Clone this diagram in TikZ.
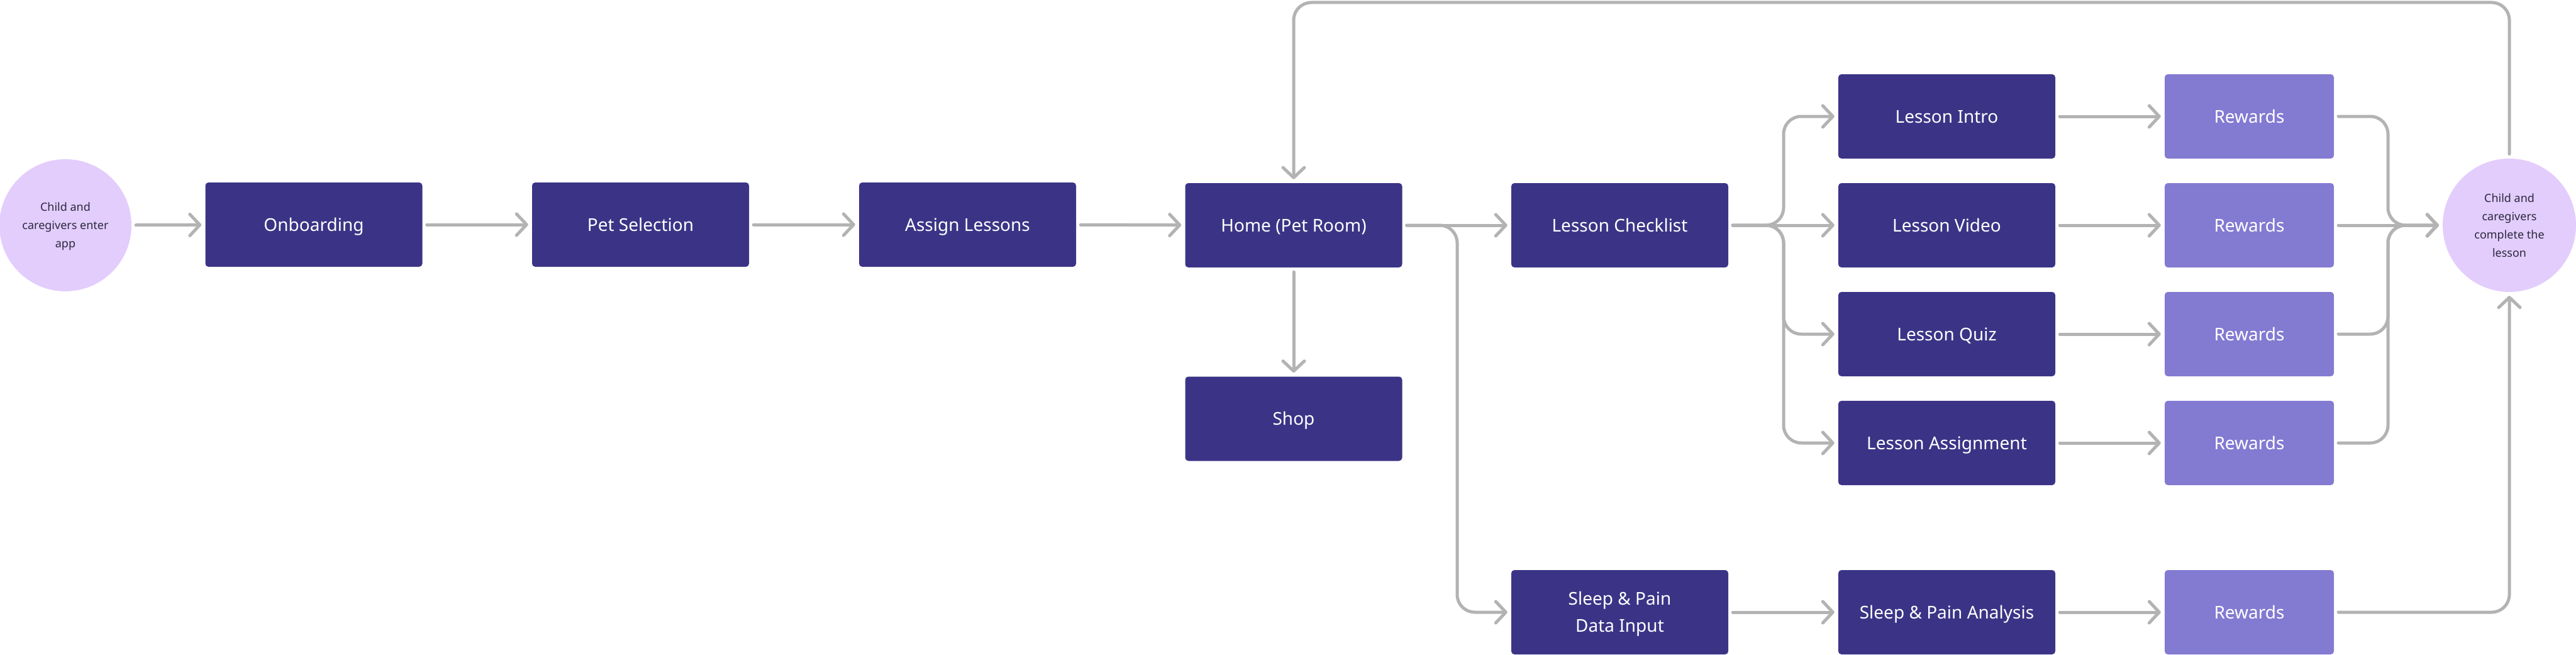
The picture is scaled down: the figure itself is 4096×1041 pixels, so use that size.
\documentclass[tikz,border=0pt]{standalone}
\usepackage{fontspec}
\setmainfont{Noto Sans}
\usetikzlibrary{arrows.meta}
\definecolor{dark}{HTML}{3B3486}
\definecolor{rewc}{HTML}{837AD2}
\definecolor{lav}{HTML}{E3CDFC}
\definecolor{txt}{HTML}{2B2840}
\definecolor{lgray}{HTML}{B3B3B3}
\begin{document}
\begin{tikzpicture}[x=1pt,y=-1pt,
  box/.style={rectangle, rounded corners=5pt, fill=dark, text=white, minimum width=345pt, minimum height=134pt, inner sep=0pt, align=center, font=\fontsize{28}{43}\selectfont, text height=20pt, text depth=0pt},
  rew/.style={box, fill=rewc, minimum width=269pt},
  blob/.style={circle, fill=lav, text=txt, inner sep=0pt, align=center, font=\fontsize{18}{29}\selectfont, text depth=0pt},
  conn/.style={draw=lgray, line width=5pt, rounded corners=28pt, line cap=round, -{Straight Barb[length=16pt,width=34pt,round]}, shorten <=7pt, shorten >=6pt}
]
\useasboundingbox (0,0) rectangle (4096,1041);

\node[blob, minimum size=210pt, text height=71pt] (start) at (104,358) {Child and\\caregivers enter\\app};
\node[box] (onb) at (499,357) {Onboarding};
\node[box] (pet) at (1018.5,357) {Pet Selection};
\node[box] (asg) at (1538.5,357) {Assign Lessons};
\node[box] (home) at (2057,358) {Home (Pet Room)};
\node[box] (shop) at (2057,665.5) {Shop};
\node[box] (chk) at (2575.5,358) {Lesson Checklist};
\node[box] (intro) at (3095.5,185) {Lesson Intro};
\node[box] (video) at (3095.5,358) {Lesson Video};
\node[box] (quiz) at (3095.5,531) {Lesson Quiz};
\node[box] (assign) at (3095.5,704) {Lesson Assignment};
\node[rew] (rw1) at (3576.5,185) {Rewards};
\node[rew] (rw2) at (3576.5,358) {Rewards};
\node[rew] (rw3) at (3576.5,531) {Rewards};
\node[rew] (rw4) at (3576.5,704) {Rewards};
\node[box, text height=63pt] (sleep) at (2575.5,973) {Sleep \& Pain\\Data Input};
\node[box] (anal) at (3095.5,973) {Sleep \& Pain Analysis};
\node[rew] (rw5) at (3576.5,973) {Rewards};
\node[blob, minimum size=212pt, text height=100pt] (endc) at (3990,358) {Child and\\caregivers\\complete the\\lesson};

\coordinate (j1) at (2317,0);
\coordinate (j2) at (2836,0);
\coordinate (j3) at (3797,0);
\coordinate (topl) at (0,4);

\draw[conn] (start) -- (onb);
\draw[conn] (onb) -- (pet);
\draw[conn] (pet) -- (asg);
\draw[conn] (asg) -- (home);
\draw[conn] (home) -- (chk);
\draw[conn] (home.south) -- (shop.north);
\draw[conn] (home.east) -- (home.east -| j1) -- (sleep.west -| j1) -- (sleep.west);

\draw[conn] (chk.east) -- (chk.east -| j2) -- (intro.west -| j2) -- (intro.west);
\draw[conn] (chk.east) -- (video.west);
\draw[conn] (chk.east) -- (chk.east -| j2) -- (quiz.west -| j2) -- (quiz.west);
\draw[conn] (chk.east) -- (chk.east -| j2) -- (assign.west -| j2) -- (assign.west);

\draw[conn] (intro) -- (rw1);
\draw[conn] (video) -- (rw2);
\draw[conn] (quiz) -- (rw3);
\draw[conn] (assign) -- (rw4);
\draw[conn] (sleep) -- (anal);
\draw[conn] (anal) -- (rw5);

\draw[conn] (rw1.east) -- (rw1.east -| j3) -- (endc.west -| j3) -- (endc.west);
\draw[conn] (rw2.east) -- (endc.west);
\draw[conn] (rw3.east) -- (rw3.east -| j3) -- (endc.west -| j3) -- (endc.west);
\draw[conn] (rw4.east) -- (rw4.east -| j3) -- (endc.west -| j3) -- (endc.west);
\draw[conn] (rw5.east) -- (rw5.east -| endc.south) -- (endc.south);
\draw[conn] (endc.north) -- (endc.north |- topl) -- (home.north |- topl) -- (home.north);
\end{tikzpicture}
\end{document}
